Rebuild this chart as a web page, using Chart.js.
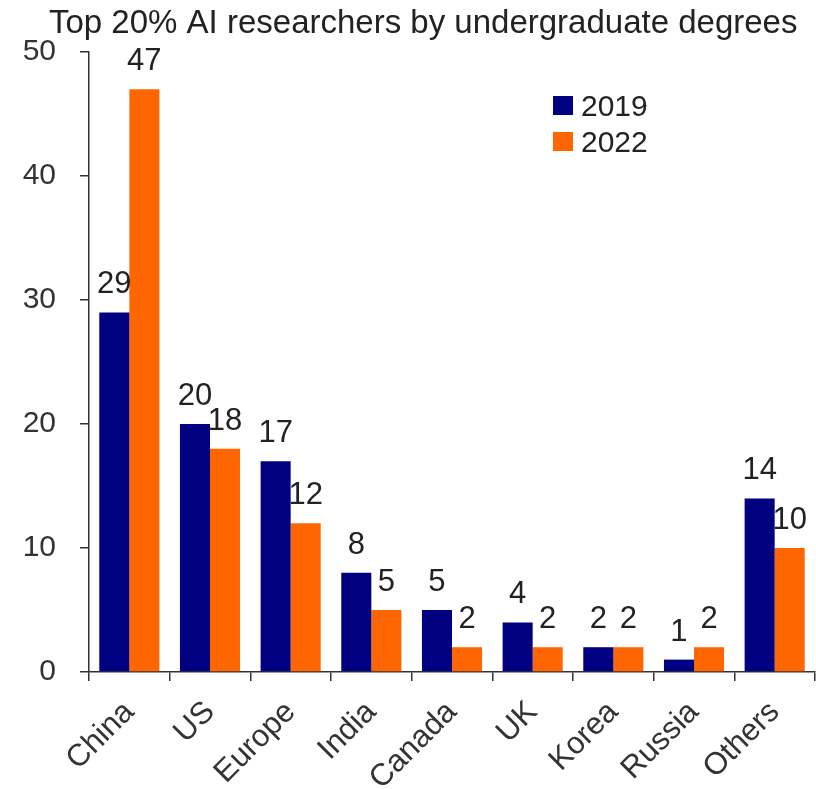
<!DOCTYPE html>
<html><head><meta charset="utf-8">
<script src="https://cdn.jsdelivr.net/npm/chart.js@4/dist/chart.umd.min.js"></script>
<style>html,body{margin:0;padding:0;background:#fff;overflow:hidden}#wrap{width:816px;height:789px}</style>
</head><body><div id="wrap"><canvas id="c" width="816" height="789"></canvas></div>
<script>
const titleText = "Top 20% AI researchers by undergraduate degrees";
const categories = ["China", "US", "Europe", "India", "Canada", "UK", "Korea", "Russia", "Others"];
const seriesNames = ["2019", "2022"];
const values2019 = [29, 20, 17, 8, 5, 4, 2, 1, 14];
const values2022 = [47, 18, 12, 5, 2, 2, 2, 2, 10];
const yMin = 0, yMax = 50, yStep = 10;

const FONT = "'Liberation Sans', Arial, sans-serif";
const colors = ["#000080", "#FF6600"];

const titlePlugin = {
  id: 'customTitle',
  afterDraw(chart) {
    const ctx = chart.ctx;
    ctx.save();
    ctx.font = "33px " + FONT;
    ctx.fillStyle = "#222";
    ctx.textAlign = "left";
    ctx.textBaseline = "alphabetic";
    ctx.fillText(titleText, 49, 33);
    ctx.restore();
  }
};

const legendPlugin = {
  id: 'customLegend',
  afterDraw(chart) {
    const ctx = chart.ctx;
    ctx.save();
    ctx.font = "30px " + FONT;
    ctx.textAlign = "left";
    ctx.textBaseline = "alphabetic";
    chart.data.datasets.forEach((ds, i) => {
      const top = 96 + i * 36;
      ctx.fillStyle = ds.backgroundColor;
      ctx.fillRect(553, top, 20, 19);
      ctx.fillStyle = "#222";
      ctx.fillText(ds.label, 581, top + 20);
    });
    ctx.restore();
  }
};

const labelPlugin = {
  id: 'barLabels',
  afterDatasetsDraw(chart) {
    const ctx = chart.ctx;
    ctx.save();
    ctx.font = "31px " + FONT;
    ctx.fillStyle = "#222";
    ctx.textAlign = "center";
    ctx.textBaseline = "alphabetic";
    chart.data.datasets.forEach((ds, di) => {
      const meta = chart.getDatasetMeta(di);
      meta.data.forEach((el, i) => {
        ctx.fillText(String(ds.data[i]), el.x, el.y - 19);
      });
    });
    ctx.restore();
  }
};

new Chart(document.getElementById('c'), {
  type: 'bar',
  data: {
    labels: categories,
    datasets: [
      { label: seriesNames[0], data: values2019, backgroundColor: colors[0], borderWidth: 0, categoryPercentage: 0.745, barPercentage: 1.0 },
      { label: seriesNames[1], data: values2022, backgroundColor: colors[1], borderWidth: 0, categoryPercentage: 0.745, barPercentage: 1.0 }
    ]
  },
  options: {
    responsive: false,
    animation: false,
    devicePixelRatio: 1,
    layout: { padding: { top: 52, right: 1, left: 0, bottom: 0 } },
    plugins: {
      legend: { display: false },
      title: { display: false },
      tooltip: { enabled: false }
    },
    scales: {
      x: {
        offset: true,
        grid: { offset: true, drawOnChartArea: false, drawTicks: true, tickLength: 9, color: "#333", lineWidth: 1.5 },
        border: { display: true, color: "#333", width: 1.5 },
        ticks: { color: "#333", font: { family: FONT, size: 31 }, minRotation: 45, maxRotation: 45, padding: 13, autoSkip: false },
        afterFit(scale) { scale.height = 117; }
      },
      y: {
        min: yMin, max: yMax,
        grid: { drawOnChartArea: false, drawTicks: true, tickLength: 9, color: "#333", lineWidth: 1.5 },
        border: { display: true, color: "#333", width: 1.5 },
        ticks: { stepSize: yStep, color: "#333", font: { family: FONT, size: 30 }, padding: 24 },
        afterFit(scale) { scale.width = 89; }
      }
    }
  },
  plugins: [titlePlugin, legendPlugin, labelPlugin]
});
</script>
</body></html>
